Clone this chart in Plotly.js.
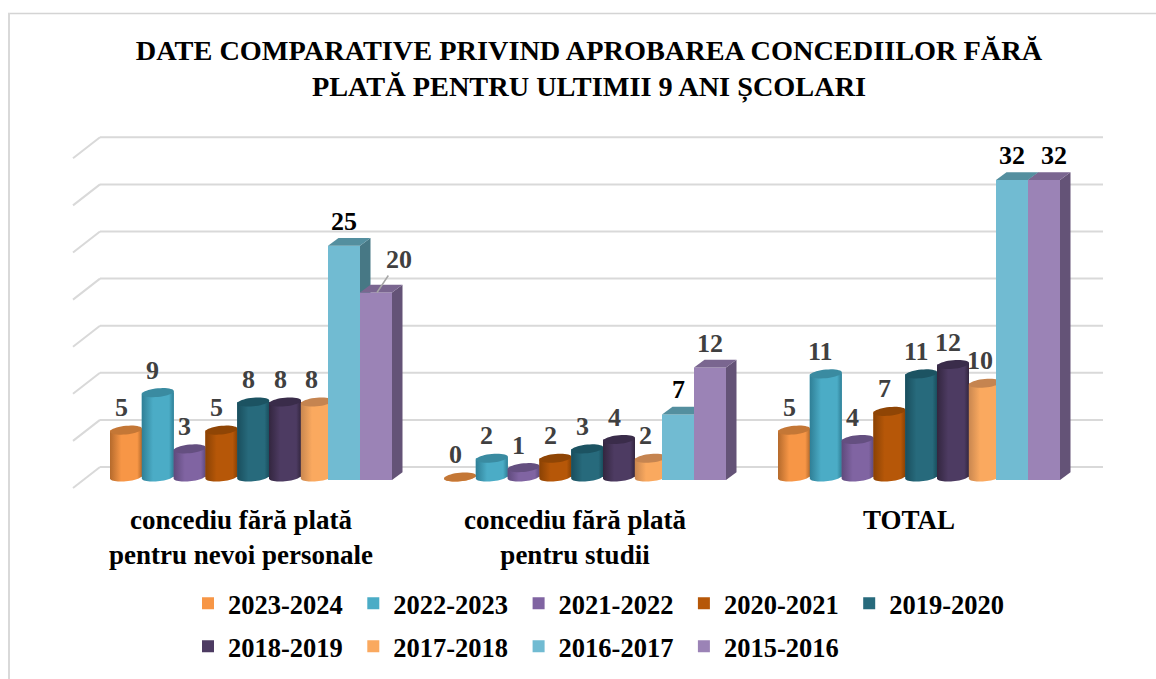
<!DOCTYPE html>
<html><head><meta charset="utf-8">
<script src="https://cdn.plot.ly/plotly-3.0.1.min.js"></script>
<style>html,body{margin:0;padding:0;background:#fff}#c{width:1156px;height:679px}</style>
</head><body><div id="c"></div>
<script>
const categories = ["concediu fără plată<br>pentru nevoi personale", "concediu fără plată<br>pentru studii", "TOTAL"];
const years = ["2023-2024","2022-2023","2021-2022","2020-2021","2019-2020","2018-2019","2017-2018","2016-2017","2015-2016"];
const v2023 = [5, 0, 5];
const v2022 = [9, 2, 11];
const v2021 = [3, 1, 4];
const v2020 = [5, 2, 7];
const v2019 = [8, 3, 11];
const v2018 = [8, 4, 12];
const v2017 = [8, 2, 10];
const v2016 = [25, 7, 32];
const v2015 = [20, 12, 32];
const seriesValues = [v2023,v2022,v2021,v2020,v2019,v2018,v2017,v2016,v2015];
const colors = ["#F79646","#4BACC6","#8064A2","#B65708","#276A7C","#4D3B62","#FAA95F","#71BBD2","#9B83B6"];
const edgeColors = ["#B56A2C","#2F7F96","#5F4A7C","#8A4204","#194E5D","#33263F","#C98750"];
const topColors = ["#C47736","#3A8BA1","#644F80","#8F4505","#1C5362","#3A2C4A","#C58450","#548F9F","#7A6690"];
const sideColors = [null,null,null,null,null,null,null,"#477885","#645377"];
const gridValues = [0,5,10,15,20,25,30,35];

// page geometry (pixels -> data)
const W=1156,H=679,MB=178,plotH=H-MB;
const gx=334, x0px=110, py=9.375;
const X=p=>(p-x0px)/gx;
const slot=31.8, barW=32, cubStart=[218,250];
const yRange=z=>[(z-plotH)/py, z/py];
const zeroCyl=477, zeroCub=480, zeroWall=467, wallScale=1.0048;
const wallUp=(zeroCyl-zeroWall)/py;

const traces=[], annotations=[], shapes=[];
function ell(cxPx,cyVal,a,b,t,from,to,n){
  const xs=[],ys=[];
  for(let i=0;i<=n;i++){
    const th=from+(to-from)*i/n;
    xs.push(X(cxPx+a*Math.cos(th)));
    ys.push(cyVal-(b*Math.sin(th)-t*Math.cos(th))/py);
  }
  return [xs,ys];
}
const a=16,b=4.3,t=1.5;
years.forEach((yr,s)=>{
  const cub=s>=7;
  const yaxis=s<7?'y':(s===7?'y2':'y3');
  const vals=seriesValues[s];
  const offs=cub?cubStart[s-7]:s*slot;
  traces.push({type:'bar',name:yr,x:[0,1,2],y:vals,yaxis,base:0,
    offset:offs/gx,width:barW/gx,
    marker:{color:colors[s],line:{width:0}},
    legend:s<5?'legend':'legend2',hoverinfo:'x+y+name'});
  vals.forEach((v,g)=>{
    const left=x0px+g*gx+offs, cx=left+barW/2;
    if(!cub){
      // cylinder body with horizontal shading, and its elliptical top
      const [tx,ty]=ell(cx,v,a,b,t,Math.PI,0,1);
      const [bx,by]=ell(cx,0,a,b,t,0,Math.PI,24);
      traces.push({type:'scatter',mode:'none',x:tx.concat(bx),y:ty.concat(by),yaxis,fill:'toself',showlegend:false,hoverinfo:'skip',
        fillcolor:colors[s],
        fillgradient:{type:'horizontal',start:X(left),stop:X(left+barW),
          colorscale:[[0,edgeColors[s]],[0.35,colors[s]],[0.85,colors[s]],[1,edgeColors[s]]]}});
      const [ex,ey]=ell(cx,v,a,b,t,0,2*Math.PI,40);
      traces.push({type:'scatter',mode:'none',x:ex,y:ey,yaxis,fill:'toself',fillcolor:topColors[s],showlegend:false,hoverinfo:'skip'});
      annotations.push({x:X(cx),y:v,yref:'y',xref:'x',text:String(v),showarrow:false,xshift:-5,yshift:22.5,
        font:{family:'Liberation Serif',size:26,color:'#404040',weight:700}});
    } else {
      const dx=10.5,dy=7.7,r=left+barW;
      traces.push({type:'scatter',mode:'none',yaxis,fill:'toself',fillcolor:sideColors[s],showlegend:false,hoverinfo:'skip',
        x:[X(r),X(r+dx),X(r+dx),X(r)],y:[v,v+dy/py,dy/py,0]});
      traces.push({type:'scatter',mode:'none',yaxis,fill:'toself',fillcolor:topColors[s],showlegend:false,hoverinfo:'skip',
        x:[X(left),X(left+dx),X(r+dx),X(r)],y:[v,v+dy/py,v+dy/py,v]});
      const black=(s===7);
      const isFar=(s===8&&v===32), moved=(s===8&&v===20);
      const ann={x:X(cx),y:v,xref:'x',yref:yaxis,text:String(v),
        font:{family:'Liberation Serif',size:26,color:(black||isFar)?'#000000':'#404040',weight:700}};
      if(moved){
        Object.assign(ann,{x:X(377),showarrow:true,arrowhead:0,arrowwidth:1.5,arrowcolor:'#A6A6A6',ax:22,ay:-33,standoff:0});
      } else {
        Object.assign(ann,{showarrow:false,yshift:24.5,xshift:isFar?10:0});
      }
      annotations.push(ann);
    }
  });
});

// chart walls: gridlines in perspective
const gl={color:'#D9D9D9',width:2};
gridValues.forEach(g=>{
  const y=g*wallScale+wallUp;
  shapes.push({type:'line',layer:'below',xref:'x',yref:'y',x0:X(100),x1:X(1103),y0:y,y1:y,line:gl});
  shapes.push({type:'line',layer:'below',xref:'x',yref:'y',x0:X(73),x1:X(100),y0:y-21/py,y1:y,line:gl});
});
// chart frame: top and left edges only
const PY=p=>(plotH-p)/plotH;
shapes.push({type:'line',layer:'below',xref:'paper',yref:'paper',x0:8/W,x1:1,y0:PY(13.5),y1:PY(13.5),line:{color:'#D4D4D4',width:1.5}});
shapes.push({type:'line',layer:'below',xref:'paper',yref:'paper',x0:9/W,x1:9/W,y0:PY(13),y1:PY(H),line:{color:'#D9D9D9',width:2}});

const hidden={visible:false,fixedrange:true};
const fontL={family:'Liberation Serif',size:26.5,color:'#000000',weight:700};
const legendCommon={orientation:'h',xanchor:'left',yanchor:'middle',entrywidth:120.3,entrywidthmode:'pixels',
  font:fontL,bgcolor:'rgba(0,0,0,0)',itemclick:false,itemdoubleclick:false,traceorder:'normal'};
const layout={
  width:W,height:H,autosize:false,showlegend:true,
  paper_bgcolor:'#fff',plot_bgcolor:'rgba(0,0,0,0)',
  margin:{l:0,r:0,t:0,b:MB,pad:0,autoexpand:false},
  barmode:'overlay',
  title:{text:"DATE COMPARATIVE PRIVIND APROBAREA CONCEDIILOR FĂRĂ<br>PLATĂ PENTRU ULTIMII 9 ANI ȘCOLARI",
    font:{family:'Liberation Serif',size:28.3,color:'#000',weight:700},x:589/W,xanchor:'center',y:1-59.5/H,yanchor:'middle'},
  xaxis:{range:[X(0),X(W)],tickmode:'array',tickvals:[0,1,2].map(g=>g+131/gx),ticktext:categories,
    showgrid:false,zeroline:false,showline:false,ticks:'',fixedrange:true,
    tickfont:{family:'Liberation Serif',size:27,color:'#000',weight:700},tickangle:0},
  yaxis:Object.assign({range:yRange(zeroCyl)},hidden),
  yaxis2:Object.assign({range:yRange(zeroCub),overlaying:'y'},hidden),
  yaxis3:Object.assign({range:yRange(zeroCub),overlaying:'y'},hidden),
  legend:Object.assign({x:188/W,y:PY(603.5)},legendCommon),
  legend2:Object.assign({x:188/W,y:PY(646.5)},legendCommon),
  annotations,shapes
};
Plotly.newPlot('c',traces,layout,{displayModeBar:false,responsive:false});
</script></body></html>
